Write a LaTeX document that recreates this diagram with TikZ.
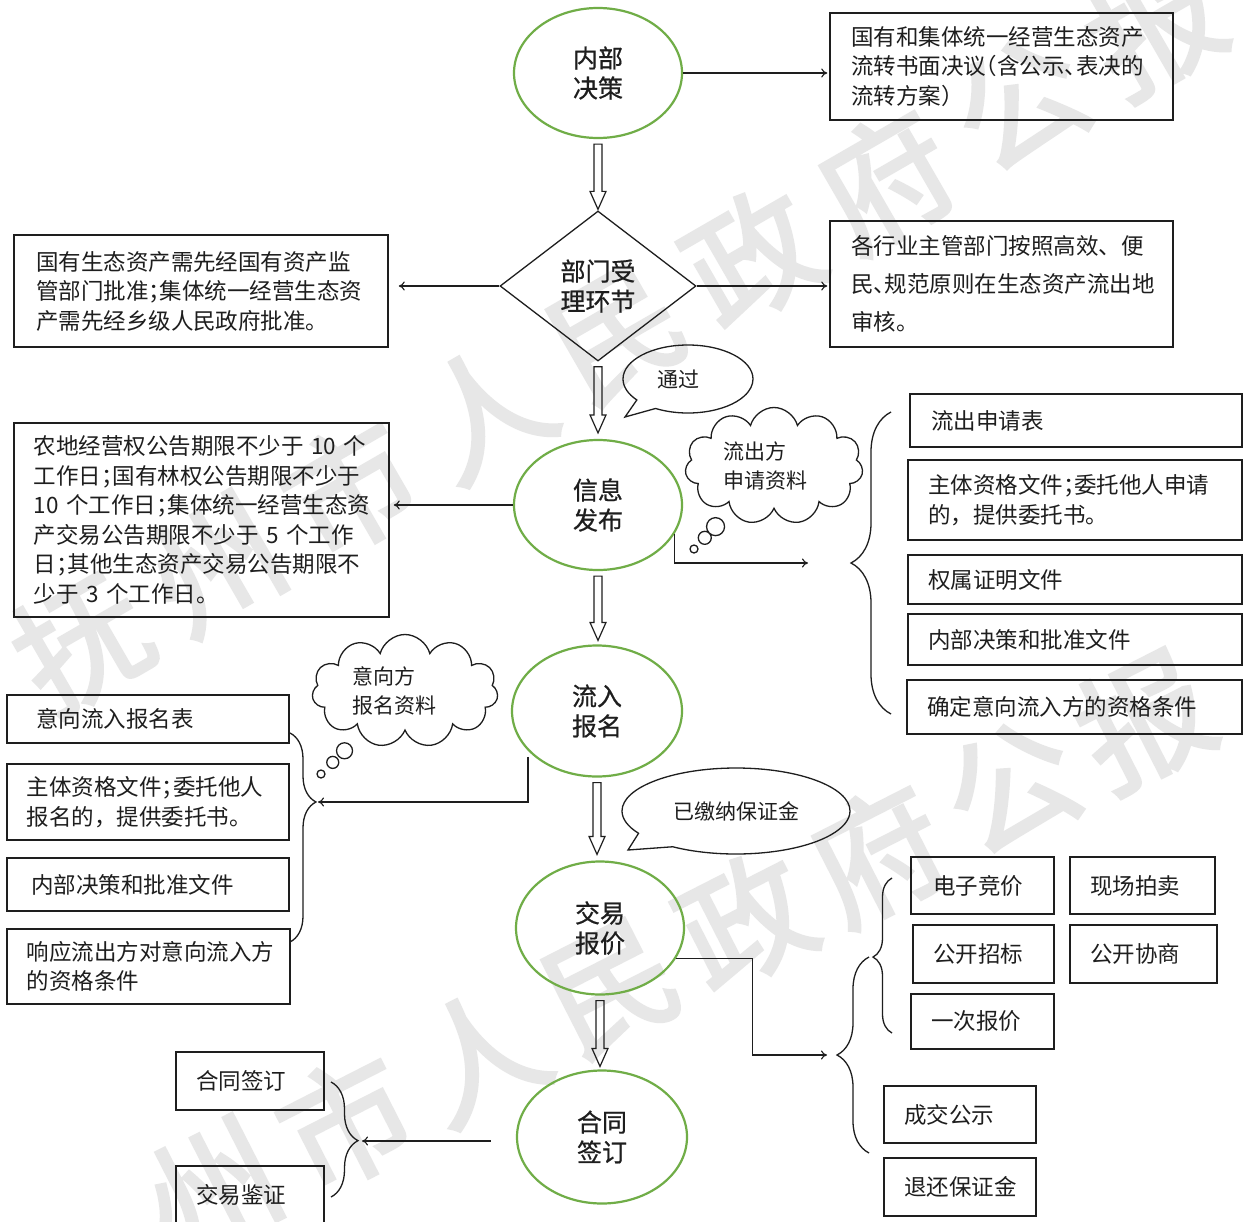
\documentclass[tikz,border=0pt]{standalone}
\usepackage{fontspec}
\setmainfont{Noto Sans CJK SC}
\newfontfamily\wmfont{Noto Sans CJK SC}[FakeBold=2.5]
\newfontfamily\ellfont{Noto Sans CJK SC}[FakeBold=0.6]
\usetikzlibrary{shapes.geometric,shapes.callouts,shapes.symbols,decorations.pathreplacing,arrows.meta,calc}
\definecolor{ellgreen}{RGB}{112,173,71}
\definecolor{wmgray}{RGB}{231,231,231}
\definecolor{ink}{RGB}{30,30,30}
\newcommand\fsBox{\fontsize{22.5}{29.5}\selectfont}
\newcommand\fsEll{\fontsize{25}{30}\selectfont}
\newcommand\fsBub{\fontsize{21}{29}\selectfont}
\newcommand\fsWm{\fontsize{130}{130}\selectfont}
\newcommand\hw[1]{{\addfontfeatures{RawFeature=+halt}#1}}
\newcommand\hollowarrow[3]{%
  \coordinate (ha-s) at ($(#1)+(0,5)$);
  \coordinate (ha-x) at (#2 -| #1);
  \coordinate (ha-t) at ($(ha-x)+(0,-#3)$);
  \draw[hollow] ($(ha-s)+(-4,0)$) -- ($(ha-t)+(-4,-18)$) -- ($(ha-t)+(-8,-18)$) -- (ha-t)
     -- ($(ha-t)+(8,-18)$) -- ($(ha-t)+(4,-18)$) -- ($(ha-s)+(4,0)$) -- cycle;}
\begin{document}
\begin{tikzpicture}[x=1pt,y=-1pt,
  box/.style={draw=ink, line width=1.5pt, rectangle, inner xsep=0pt, inner ysep=0pt, align=left, font=\fsBox, text=ink},
  ell/.style={draw=ellgreen, line width=2.2pt, ellipse, inner sep=0pt, align=center, font=\ellfont\fsEll, text=ink},
  thin/.style={draw=ink, line width=1.1pt, -{To[length=6pt,width=9pt]}},
  hollow/.style={draw=ink, line width=1.2pt},
  brc/.style={draw=ink, line width=1.3pt, decorate},
  wm/.style={text=wmgray, font=\wmfont\fsWm, inner sep=0pt},
  bubble/.style={draw=ink, line width=1.3pt, font=\fsBub, text=ink, inner sep=0pt, align=left},
]
\fill[white] (0,0) rectangle (1245,1221);
\useasboundingbox (0,0) rectangle (1245,1221);

% watermark
\foreach \c [count=\i from 0] in {抚,州,市,人,民,政,府,公,报}
  {\node[wm, rotate=30] (wa\i) at ({82+134*\i},{642-77*\i}) {\c};}
\foreach \c [count=\i from 0] in {州,市,人,民,政,府,公,报}
  {\node[wm, rotate=27] (wb\i) at ({213+133*\i},{1189-67*\i}) {\c};}

% main flow
\node[ell, minimum width=168pt, minimum height=130pt] (N1) at (598,73) {内部\\决策};
\node[draw=ink, line width=1.3pt, diamond, minimum width=196pt, minimum height=150pt, inner sep=0pt, align=center, font=\ellfont\fsEll, text=ink] (DM) at (598,286) {部门受\\理环节};
\node[ell, minimum width=168pt, minimum height=130pt] (N2) at (598,505) {信息\\发布};
\node[ell, minimum width=170pt, minimum height=131pt] (N3) at (597,711) {流入\\报名};
\node[ell, minimum width=168pt, minimum height=133pt] (N4) at (600,928) {交易\\报价};
\node[ell, minimum width=170pt, minimum height=133pt] (N5) at (602,1137) {合同\\签订};

\hollowarrow{N1.south}{DM.north}{1}
\hollowarrow{DM.south}{N2.north}{6}
\hollowarrow{N2.south}{N3.north}{4}
\hollowarrow{N3.south}{N4.north}{6}
\hollowarrow{N4.south}{N5.north}{3}

% side boxes
\node[box, minimum width=343pt, minimum height=107pt, text width=301pt] (A) at (1001.5,66.5)
  {国有和集体统一经营生态资产\\流转书面决议\hw{（}含公示\hw{、}表决的\\流转方案）};
\node[box, minimum width=374pt, minimum height=112pt, text width=330pt] (B) at (201,291)
  {国有生态资产需先经国有资产监\\管部门批准\hw{；}集体统一经营生态资\\产需先经乡级人民政府批准。};
\node[box, font=\fontsize{22.5}{38}\selectfont, minimum width=343pt, minimum height=126pt, text width=301pt] (C) at (1001.5,284)
  {各行业主管部门按照高效、便\\民\hw{、}规范原则在生态资产流出地\\审核。};
\node[box, minimum width=375pt, minimum height=194pt, text width=335pt] (D) at (201.5,520)
  {农地经营权公告期限不少于~10~个\\工作日\hw{；}国有林权公告期限不少于\\10~个工作日\hw{；}集体统一经营生态资\\产交易公告期限不少于~5~个工作\\日\hw{；}其他生态资产交易公告期限不\\少于~3~个工作日。};

% right list
\node[box, minimum width=332pt, minimum height=53pt, text width=290pt] (E1) at (1076,420.5) {流出申请表};
\node[box, minimum width=334pt, minimum height=80pt, text width=294pt] (E2) at (1075,500) {主体资格文件\hw{；}委托他人申请\\的，提供委托书。};
\node[box, minimum width=334pt, minimum height=49pt, text width=294pt] (E3) at (1075,579.5) {权属证明文件};
\node[box, minimum width=334pt, minimum height=51pt, text width=294pt] (E4) at (1075,639.5) {内部决策和批准文件};
\node[box, minimum width=335pt, minimum height=54pt, text width=295pt] (E5) at (1074.5,707) {确定意向流入方的资格条件};

% left list
\node[box, minimum width=282pt, minimum height=48pt, text width=224pt] (L1) at (148,719) {意向流入报名表};
\node[box, minimum width=282pt, minimum height=76pt, text width=242pt] (L2) at (148,802) {主体资格文件\hw{；}委托他人\\报名的，提供委托书。};
\node[box, minimum width=282pt, minimum height=53pt, text width=234pt] (L3) at (148,884.5) {内部决策和批准文件};
\node[box, minimum width=283pt, minimum height=75pt, text width=243pt] (L4) at (148.5,966.5) {响应流出方对意向流入方\\的资格条件};

% contract boxes
\node[box, minimum width=148pt, minimum height=58pt, text width=108pt] (K1) at (250,1081) {合同签订};
\node[box, minimum width=148pt, minimum height=58pt, text width=108pt] (K2) at (250,1195) {交易鉴证};

% auction boxes
\node[box, minimum width=143pt, minimum height=57pt, text width=99pt] (P1) at (982.5,885.5) {电子竞价};
\node[box, minimum width=145pt, minimum height=57pt, text width=105pt] (P2) at (1142.5,885.5) {现场拍卖};
\node[box, minimum width=141pt, minimum height=58pt, text width=101pt] (P3) at (983.5,954) {公开招标};
\node[box, minimum width=147pt, minimum height=58pt, text width=107pt] (P4) at (1143.5,954) {公开协商};
\node[box, minimum width=143pt, minimum height=55pt, text width=103pt] (P5) at (982.5,1021.5) {一次报价};
\node[box, minimum width=152pt, minimum height=57pt, text width=112pt] (P6) at (960,1114.5) {成交公示};
\node[box, minimum width=152pt, minimum height=58pt, text width=112pt] (P7) at (960,1187) {退还保证金};

% bubbles
\node[bubble, ellipse callout, minimum width=130pt, minimum height=68pt, callout absolute pointer={(625,417)}, callout pointer arc=22] (BB1) at (688,379) {\hspace*{-20pt}通过};
\node[bubble, ellipse callout, minimum width=228pt, minimum height=86pt, callout absolute pointer={(628,850)}, callout pointer arc=25] (BB2) at (736,811) {已缴纳保证金};
\node[bubble, cloud callout, cloud puffs=11, minimum width=178pt, minimum height=117pt, callout absolute pointer={(694,549)}, callout pointer segments=3, callout pointer start size=38pt and 23pt, callout pointer end size=12pt and 8pt] (CL1) at (774,466) {\hspace*{-18pt}流出方\\\hspace*{-18pt}申请资料};
\node[bubble, cloud callout, cloud puffs=11, minimum width=186pt, minimum height=113pt, callout absolute pointer={(321,774)}, callout pointer segments=3, callout pointer start size=30pt and 20pt, callout pointer end size=12pt and 8pt] (CL2) at (405,691) {\hspace*{-22pt}意向方\\\hspace*{-22pt}报名资料};

% braces
\coordinate (tipR) at (851,563);
\coordinate (tipL) at (316,802);
\coordinate (tipK) at (358,1141);
\coordinate (tipA) at (837,1055);
\draw[brc, decoration={brace, amplitude=40pt}] (891,714) -- (891,412);
\draw[brc, decoration={brace, amplitude=26pt, aspect=0.33}] (290,733) -- (290,942);
\draw[brc, decoration={brace, amplitude=27pt, aspect=0.51}] (331,1082) -- (331,1197);
\draw[brc, decoration={brace, amplitude=19pt, aspect=0.49}] (892,1033) -- (892,878);
\draw[brc, decoration={brace, amplitude=32pt}] (869,1153) -- (869,957);

% connectors
\draw[thin, shorten >=2pt] (N1.east) -- (N1.east -| A.west);
\draw[thin, shorten >=10pt] (DM.west) -- (DM.west -| B.east);
\draw[thin, shorten >=2pt] (DM.east) -- (DM.east -| C.west);
\draw[thin, shorten >=4pt] (N2.west) -- (N2.west -| D.east);
\draw[thin, shorten >=43pt] (N2.-21) |- (tipR);
\draw[thin, shorten <=6pt, shorten >=2pt] (N3.210) |- (tipL);
\draw[thin, shorten >=10pt] (N4.-22) -- ++(77,0) |- (tipA);
\draw[thin, shorten <=25pt, shorten >=4pt] (N5.west |- tipK) -- (tipK);
\end{tikzpicture}
\end{document}
